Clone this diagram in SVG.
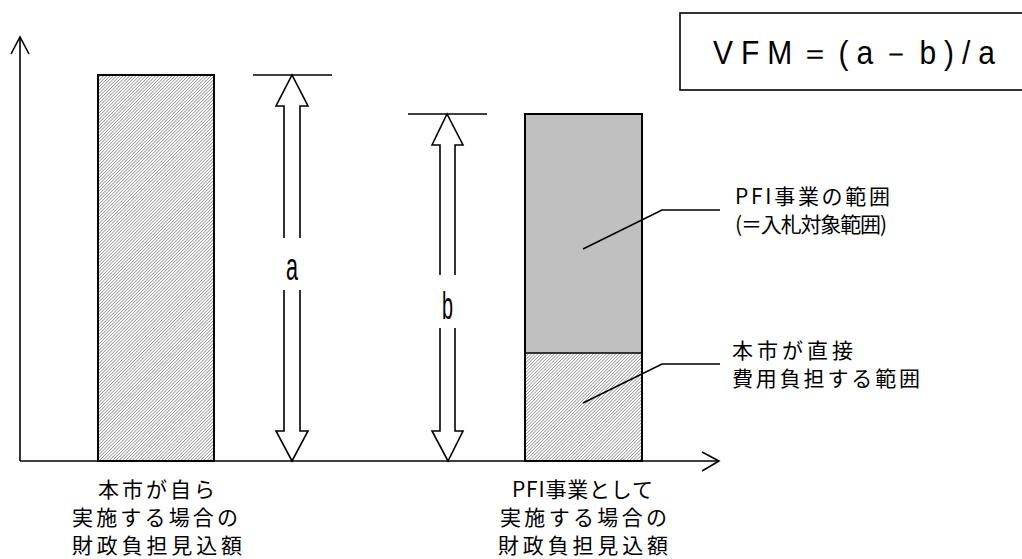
<svg xmlns="http://www.w3.org/2000/svg" width="1022" height="559" viewBox="0 0 1022 559">
<style>
.ln{fill:none;stroke:#000;stroke-width:1.6;stroke-linecap:butt;stroke-linejoin:miter}
.bar{stroke:#000;stroke-width:2}
.jp{font-family:"Noto Sans CJK JP","Noto Sans CJK SC",sans-serif;font-size:21px;fill:#000}
.lat{font-family:"Liberation Sans",Arial,sans-serif;fill:#000}
</style>
<defs>
<pattern id="hatch" width="6" height="2.3" patternUnits="userSpaceOnUse" patternTransform="rotate(-45)">
<rect x="0" y="0" width="6" height="0.75" fill="#909090"/>
</pattern>
</defs>
<rect width="1022" height="559" fill="#fff"/>

<g id="axes">
<line class="ln" x1="20" y1="461" x2="20" y2="37"/>
<polyline class="ln" points="11,54 20,37 29,54"/>
<line class="ln" x1="20" y1="461" x2="719" y2="461"/>
<polyline class="ln" points="702,452 719,461 702,471"/>
</g>

<g id="bar-self">
<rect class="bar" x="98" y="75" width="116" height="386" fill="url(#hatch)"/>
</g>

<g id="bar-pfi">
<rect x="525" y="114" width="117" height="239" fill="#c0c0c0" stroke="none"/>
<rect x="525" y="353" width="117" height="108" fill="url(#hatch)" stroke="none"/>
<rect class="bar" x="525" y="114" width="117" height="347" fill="none"/>
<line class="ln" x1="525" y1="353" x2="642" y2="353"/>
</g>

<g id="arrow-a">
<line class="ln" x1="253" y1="75" x2="332" y2="75"/>
<polyline class="ln" fill="#fff" points="284,238 284,106 276,106 292,75 308,106 300,106 300,238"/>
<polyline class="ln" fill="#fff" points="284,290 284,431 276,431 292,461 308,431 300,431 300,290"/>
<text class="lat" x="286" y="280" font-size="38" textLength="12" lengthAdjust="spacingAndGlyphs">a</text>
</g>

<g id="arrow-b">
<line class="ln" x1="408" y1="114" x2="487" y2="114"/>
<polyline class="ln" fill="#fff" points="440,275 440,145 432,145 447,114 463,145 455,145 455,275"/>
<polyline class="ln" fill="#fff" points="440,328 440,431 432,431 448,461 463,431 455,431 455,328"/>
<text class="lat" x="442" y="319" font-size="38" textLength="11" lengthAdjust="spacingAndGlyphs">b</text>
</g>

<g id="formula">
<rect x="680" y="13" width="360" height="77" fill="#fff" stroke="#000" stroke-width="1.6"/>
<text class="lat" x="713" y="64" font-size="30" transform="translate(713 64) scale(1 1.1) translate(-713 -64)" textLength="282" lengthAdjust="spacing">VFM＝(a－b)/a</text>
</g>

<g id="connectors">
<polyline class="ln" points="583,249 662,210 720,210"/>
<polyline class="ln" points="583,403 662,364 720,364"/>
</g>

<g id="label-pfi-scope">
<text class="jp" x="735" y="204" textLength="155" lengthAdjust="spacing">PFI事業の範囲</text>
<text class="jp" x="735" y="232" textLength="152" lengthAdjust="spacing">(＝入札対象範囲)</text>
</g>

<g id="label-direct">
<text class="jp" x="732" y="358" textLength="121" lengthAdjust="spacing">本市が直接</text>
<text class="jp" x="732" y="386" textLength="188" lengthAdjust="spacing">費用負担する範囲</text>
</g>

<g id="label-self">
<text class="jp" x="98" y="497" textLength="117" lengthAdjust="spacing">本市が自ら</text>
<text class="jp" x="72" y="525" textLength="166" lengthAdjust="spacing">実施する場合の</text>
<text class="jp" x="72" y="553" textLength="170" lengthAdjust="spacing">財政負担見込額</text>
</g>

<g id="label-pfi">
<text class="jp" x="512" y="497" textLength="141" lengthAdjust="spacing">PFI事業として</text>
<text class="jp" x="500" y="525" textLength="167" lengthAdjust="spacing">実施する場合の</text>
<text class="jp" x="498" y="553" textLength="170" lengthAdjust="spacing">財政負担見込額</text>
</g>
</svg>
